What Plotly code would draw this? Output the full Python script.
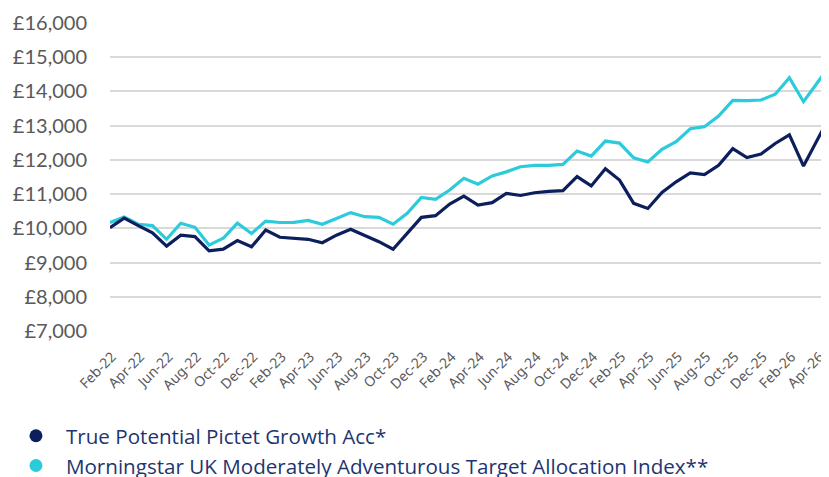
import plotly.graph_objects as go

months = ["Feb-22","Mar-22","Apr-22","May-22","Jun-22","Jul-22","Aug-22","Sep-22","Oct-22","Nov-22","Dec-22",
          "Jan-23","Feb-23","Mar-23","Apr-23","May-23","Jun-23","Jul-23","Aug-23","Sep-23","Oct-23","Nov-23","Dec-23",
          "Jan-24","Feb-24","Mar-24","Apr-24","May-24","Jun-24","Jul-24","Aug-24","Sep-24","Oct-24","Nov-24","Dec-24",
          "Jan-25","Feb-25","Mar-25","Apr-25","May-25","Jun-25","Jul-25","Aug-25","Sep-25","Oct-25","Nov-25","Dec-25",
          "Jan-26","Feb-26","Mar-26","Apr-26","May-26"]

fund = [10020, 10300, 10080, 9870, 9480, 9800, 9760, 9340, 9390, 9640, 9460,
        9950, 9740, 9710, 9680, 9580, 9800, 9970, 9800, 9610, 9390, 9850, 10320,
        10370, 10710, 10940, 10680, 10750, 11020, 10960, 11040, 11080, 11100, 11510, 11240,
        11740, 11410, 10730, 10580, 11050, 11360, 11620, 11570, 11840, 12330, 12070, 12170,
        12480, 12730, 11820, 12620, 13390]

index = [10170, 10330, 10120, 10080, 9680, 10150, 10030, 9510, 9710, 10150, 9850,
         10210, 10170, 10175, 10230, 10120, 10290, 10460, 10340, 10320, 10120, 10440, 10900,
         10850, 11120, 11460, 11290, 11530, 11650, 11800, 11840, 11840, 11870, 12260, 12110,
         12550, 12490, 12060, 11940, 12310, 12530, 12910, 12970, 13280, 13740, 13730, 13750,
         13920, 14400, 13700, 14270, 14840]

y_ticks = [7000, 8000, 9000, 10000, 11000, 12000, 13000, 14000, 15000, 16000]
y_tick_text = ["£7,000", "£8,000", "£9,000", "£10,000", "£11,000", "£12,000", "£13,000", "£14,000", "£15,000", "£16,000"]

names = ["True Potential Pictet Growth Acc*",
         "Morningstar UK Moderately Adventurous Target Allocation Index**"]
colors = ["#0c1f5c", "#2ccbdb"]

xs = list(range(len(months)))

fig = go.Figure()
# draw index first so fund line sits on top
fig.add_trace(go.Scatter(x=xs, y=index, mode="lines", line=dict(color=colors[1], width=3.2),
                         showlegend=False, hoverinfo="skip"))
fig.add_trace(go.Scatter(x=xs, y=fund, mode="lines", line=dict(color=colors[0], width=3.2),
                         showlegend=False, hoverinfo="skip"))
for n, c in zip(names, colors):
    fig.add_trace(go.Scatter(x=[None], y=[None], mode="markers", name=n,
                             marker=dict(color=c, size=13, symbol="circle")))

# page body has an 8px margin, so the figure is sized/offset to compensate
fig.update_layout(
    width=821, height=469,
    margin=dict(l=102, r=0, t=15, b=146, autoexpand=False),
    paper_bgcolor="white", plot_bgcolor="white",
    showlegend=True,
    legend=dict(orientation="v", x=-0.1447, xanchor="left", y=-0.2755, yanchor="top",
                font=dict(family="Open Sans", size=20.6, color="#1d3570"),
                itemwidth=50, tracegroupgap=0, bgcolor="rgba(0,0,0,0)"),
    xaxis=dict(range=[0, 50.8], tickmode="array", tickvals=xs[::2], ticktext=months[::2],
               tickangle=-45, showgrid=False, zeroline=False, showline=False, ticks="",
               automargin=False, ticklabelstandoff=14, ticklabelshift=2,
               tickfont=dict(family="Noto Sans", size=14, color="#595959")),
    yaxis=dict(range=[7000, 16000], tickmode="array", tickvals=y_ticks, ticktext=y_tick_text,
               showgrid=True, gridcolor="#d9d9d9", gridwidth=1.5, zeroline=False, showline=False,
               ticks="", ticklabelstandoff=22, automargin=False,
               tickfont=dict(family="Lato", size=20, color="#595959")),
)

fig.write_html("out.html")
